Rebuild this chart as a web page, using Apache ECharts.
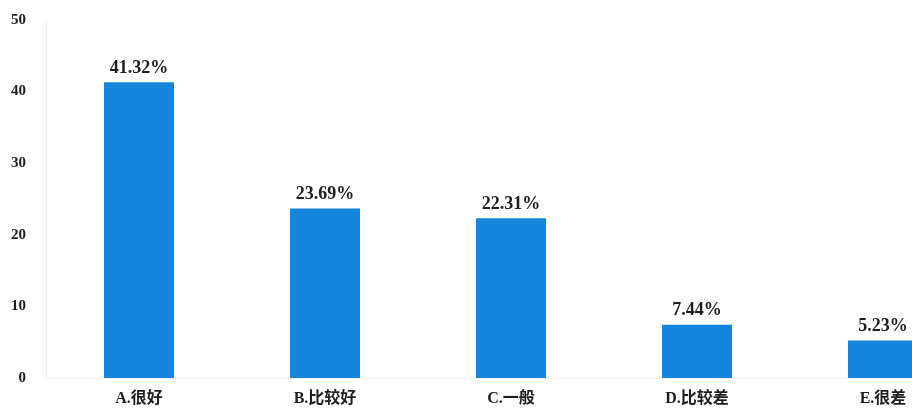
<!DOCTYPE html>
<html>
<head>
<meta charset="utf-8">
<script src="https://cdn.jsdelivr.net/npm/echarts@6/dist/echarts.min.js"></script>
<style>
    html, body { margin: 0; padding: 0; background: #fff; }
    #chart { width: 912px; height: 414px; }
</style>
</head>
<body>
<div id="chart"></div>
<script>
// Satisfaction ratings (percent)
let categories = ['A.很好', 'B.比较好', 'C.一般', 'D.比较差', 'E.很差'];
let percentages = [41.32, 23.69, 22.31, 7.44, 5.23];
let yTicks = [0, 10, 20, 30, 40, 50];

let FONT = '"Liberation Serif", "DejaVu Serif", "Noto Sans CJK SC", serif';

let chart = echarts.init(document.getElementById('chart'));

chart.setOption({
    animation: false,
    grid: {
        left: 46,
        top: 20,
        bottom: 36,
        right: -64,
        outerBoundsMode: 'none',
        containLabel: false
    },
    xAxis: {
        type: 'category',
        data: categories,
        axisLine: {
            show: true,
            lineStyle: { color: '#f0f0f0' }
        },
        axisTick: { show: false },
        axisLabel: {
            margin: 13,
            color: '#1e1e1e',
            fontFamily: FONT,
            fontWeight: 'bold',
            fontSize: 16
        }
    },
    yAxis: {
        type: 'value',
        min: yTicks[0],
        max: yTicks[yTicks.length - 1],
        interval: 10,
        splitLine: { show: false },
        axisLine: {
            show: true,
            lineStyle: { color: '#f0f0f0' }
        },
        axisTick: { show: false },
        axisLabel: {
            margin: 20,
            color: '#1e1e1e',
            fontFamily: FONT,
            fontWeight: 'bold',
            fontSize: 15
        }
    },
    series: [{
        type: 'bar',
        data: percentages,
        barWidth: 70,
        itemStyle: { color: '#1685dd' },
        label: {
            show: true,
            position: 'top',
            distance: 5,
            formatter: function (p) { return p.value.toFixed(2) + '%'; },
            color: '#1e1e1e',
            fontFamily: FONT,
            fontWeight: 'bold',
            fontSize: 18
        }
    }]
});
</script>
</body>
</html>
